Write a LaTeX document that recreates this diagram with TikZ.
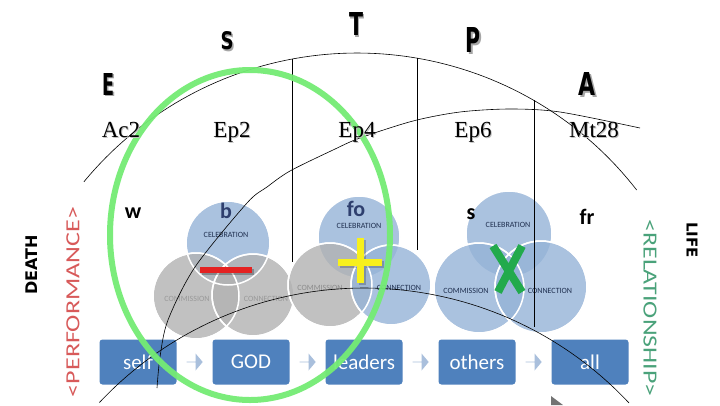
\documentclass[tikz,border=0pt]{standalone}
\usepackage{fontspec}
\usepackage{graphicx}
\usetikzlibrary{shapes.arrows,calc}
\setmainfont{Liberation Serif}
\newfontfamily\carl{Carlito}
\newfontfamily\dejav{DejaVu Sans}
\definecolor{boxblue}{HTML}{4F81BD}
\definecolor{arrblue}{HTML}{A9BFDC}
\definecolor{vblue}{HTML}{95B3D7}
\definecolor{vgrey}{HTML}{B2B2B2}
\definecolor{gcirc}{HTML}{74EC74}
\definecolor{perf}{HTML}{D85A5A}
\definecolor{rel}{HTML}{4AA27A}
\definecolor{labblue}{HTML}{2E3F6E}
\definecolor{vlab}{HTML}{1F2F4F}
\definecolor{minusred}{HTML}{E42222}
\definecolor{plusyel}{HTML}{F7F01C}
\definecolor{xgreen}{HTML}{22AA4C}
\newcommand\heavy[3]{\resizebox{#1}{#2}{\dejav\bfseries #3}}
\begin{document}
\begin{tikzpicture}[x=1pt,y=-1pt,
  bluevenn/.style={fill=vblue,fill opacity=0.8,draw=white,line width=1.5pt},
  greyvenn/.style={fill=vgrey,fill opacity=0.8,draw=white,line width=1.5pt},
  vennlab/.style={font=\carl\fontsize{8}{8}\selectfont,text=vlab,inner sep=0pt},
  greylab/.style={vennlab,text=black!40},
  biglet/.style={font=\carl\bfseries\fontsize{22}{22}\selectfont,inner sep=0pt},
  stepbox/.style={fill=boxblue,rounded corners=3pt,minimum width=77pt,minimum height=45pt,
     text=white,font=\carl\fontsize{21}{21}\selectfont,inner sep=0pt},
  flowarrow/.style={single arrow,fill=arrblue,draw=none,minimum height=16pt,minimum width=17pt,
     single arrow head extend=3.5pt,single arrow tip angle=100,inner sep=0pt},
  reflab/.style={font=\fontsize{23}{23}\selectfont,anchor=base,inner sep=0pt},
  heavylet/.style={inner sep=0pt},
  thinline/.style={black,line width=0.6pt}
]
\useasboundingbox (0,0) rectangle (720,405);
\fill[white] (0,0) rectangle (720,405);

% Venn group 1 (b)
\fill[bluevenn] (228,243) circle[radius=42pt];
\fill[greyvenn] (196,296) circle[radius=43pt];
\fill[greyvenn] (253,295) circle[radius=41pt];
\path[draw=white,line width=1.5pt] (228,243) circle[radius=42pt];
\path[draw=white,line width=1.5pt] (196,296) circle[radius=43pt];
\path[draw=white,line width=1.5pt] (253,295) circle[radius=41pt];
% Venn group 2 (fo)
\fill[bluevenn] (359,237) circle[radius=41pt];
\fill[greyvenn] (330,285) circle[radius=42pt];
\fill[bluevenn] (391,285) circle[radius=40pt];
\path[draw=white,line width=1.5pt] (330,285) circle[radius=42pt];
\path[draw=white,line width=1.5pt] (391,285) circle[radius=40pt];
% Venn group 3 (s)
\fill[bluevenn] (509,234) circle[radius=43pt];
\fill[bluevenn] (479,288) circle[radius=45pt];
\fill[bluevenn] (541,287) circle[radius=46pt];
\path[draw=white,line width=1.5pt] (479,288) circle[radius=45pt];
\path[draw=white,line width=1.5pt] (541,287) circle[radius=46pt];

% venn labels
\node[vennlab] (cel1) at (226,235) {CELEBRATION};
\node[greylab] (com1) at (187,299) {COMMISSION};
\node[greylab] (con1) at (266,299) {CONNECTION};
\node[vennlab] (cel2) at (359,226) {CELEBRATION};
\node[greylab,text=black!45] (com2) at (320,288) {COMMISSION};
\node[vennlab] (con2) at (399,288) {CONNECTION};
\node[vennlab] (cel3) at (508,225) {CELEBRATION};
\node[vennlab] (com3) at (466,291) {COMMISSION};
\node[vennlab] (con3) at (550,291) {CONNECTION};

\node[biglet,text=labblue] (lb) at (226,211) {b};
\node[biglet,text=labblue] (lfo) at (356,209) {fo};
\node[biglet] (ls) at (471,214) {s};
\node[biglet] (lw) at (133,213) {w};
\node[biglet] (lfr) at (587,217) {fr};

% boxes
\node[stepbox] (self) at (138,362) {self};
\node[stepbox] (god) at (251,362) {GOD};
\node[stepbox] (leaders) at (364,362) {leaders};
\node[stepbox] (others) at (477,362) {others};
\node[stepbox] (all) at (590,362) {all};
\node[flowarrow] (a1) at ($(self.east)!0.5!(god.west)$) {};
\node[flowarrow] (a2) at ($(god.east)!0.5!(leaders.west)$) {};
\node[flowarrow] (a3) at ($(leaders.east)!0.5!(others.west)$) {};
\node[flowarrow] (a4) at ($(others.east)!0.5!(all.west)$) {};

% symbols
\draw[line width=6pt,black,opacity=0.25] (202,272) -- (254,272);
\draw[line width=6pt,minusred] (200,270) -- (252,270);
\draw[line width=7pt,black,opacity=0.2] (340,264) -- (384,264) (362,240) -- (362,285);
\draw[line width=7pt,plusyel] (338,262) -- (382,262) (360,238) -- (360,283);
\draw[line width=8pt,xgreen] (493,246) -- (522,292) (522,246) -- (498,292);

% lines
\draw[thinline] plot[domain=-140.5:-37.8,samples=80,variable=\t] ({357+354*cos(\t)},{407+354*sin(\t)});
\draw[thinline] plot[domain=-136.8:-43.1,samples=80,variable=\t] ({364+363*cos(\t)},{651+363*sin(\t)});
\draw[thinline] plot[smooth] coordinates {(157,388) (160,357) (168,320) (195,267) (247,203) (267,187) (290,171) (333,150) (360,138) (413,121) (460,112) (510,109) (560,112) (640,128)};
\draw[thinline] (292,59) -- (292,262);
\draw[thinline] (417,58) -- (417,250);
\draw[thinline] (534,100) -- (534,327);

% small grey pointer
\fill[black!55] (551,396) -- (551,405) -- (563,405) -- cycle;

% green ellipse
\draw[gcirc,line width=6pt,opacity=0.95] (250,235) ellipse[x radius=140,y radius=165];

% heavy letters
\foreach \nm/\px/\py/\w/\h/\ch in {E/108/84/12/22/E,S/227/41/13/18/S,T/356/24/14/23/T,P/473/40/15/25/P,A/587/84/17/23/A}{
  \node[heavylet,text=black!35] at (\px+1.5,\py+1.5) {\heavy{\w pt}{\h pt}{\ch}};
  \node[heavylet] (let\nm) at (\px,\py) {\heavy{\w pt}{\h pt}{\ch}};
}

% reference labels
\foreach \nm/\px/\tx in {ac/121/Ac2,ep2/232/Ep2,ep4/357/Ep4,ep6/473/Ep6,mt/594/Mt28}{
  \node[reflab,text=black!25] at (\px+1,138) {\tx};
  \node[reflab] (ref\nm) at (\px,137) {\tx};
}

% side texts
\node[rotate=90,inner sep=0pt,font=\dejav\bfseries\fontsize{16}{16}\selectfont] (death) at (32,265) {DEATH};
\node[rotate=-90,inner sep=0pt,font=\dejav\bfseries\fontsize{15}{15}\selectfont] (life) at (692,240) {LIFE};
\node[rotate=90,inner sep=0pt,text=perf] (perfl) at (73,302) {\resizebox{190pt}{13pt}{\carl <PERFORMANCE>}};
\node[rotate=-90,inner sep=0pt,text=rel] (rell) at (650,308) {\resizebox{177pt}{13pt}{\carl <RELATIONSHIP>}};
\end{tikzpicture}
\end{document}
